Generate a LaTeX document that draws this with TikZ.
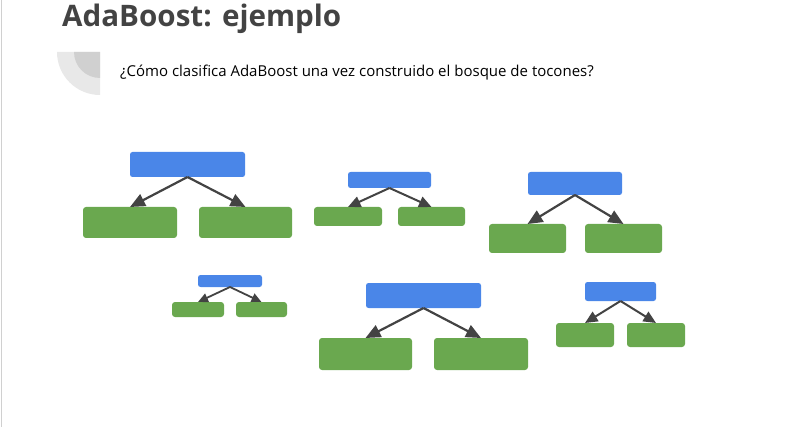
\documentclass[tikz,border=0pt]{standalone}
\usepackage{fontspec}
\setmainfont{Open Sans}
\newfontfamily\titlefont{Open Sans}
\usetikzlibrary{arrows.meta}
\definecolor{rootblue}{HTML}{4A86E8}
\definecolor{leafgreen}{HTML}{6AA84F}
\definecolor{darkgray}{HTML}{434343}
\definecolor{lightring}{HTML}{E8E8E8}
\definecolor{darkring}{HTML}{D0D0D0}
\tikzset{
  rootbox/.style={fill=rootblue, draw=none, rounded corners=2.5pt},
  leafbox/.style={fill=leafgreen, draw=none, rounded corners=3pt},
  edgebig/.style={draw=darkgray, line width=2.2pt, -{Triangle[length=15pt,width=13pt]}},
  edgemid/.style={draw=darkgray, line width=2pt, -{Triangle[length=12.5pt,width=11pt]}},
  edgesmall/.style={draw=darkgray, line width=1.8pt, -{Triangle[length=10pt,width=9pt]}},
}
\begin{document}
\begin{tikzpicture}[x=1pt,y=-1pt]
\useasboundingbox (0,0) rectangle (791,427);
% left border
\draw[draw=darkring, line width=1pt] (1.5,0) -- (1.5,427);
% corner decoration
\fill[lightring] (100,52) -- (57,52) arc[start angle=180, end angle=90, radius=43] -- cycle;
\fill[darkring] (100,52) -- (74,52) arc[start angle=180, end angle=90, radius=26] -- cycle;
% title
\node[anchor=base west, inner sep=0, text=darkgray, font=\titlefont\bfseries\fontsize{29.6}{34}\selectfont] (title) at (62,27) {AdaBoost: ejemplo};
\node[anchor=base west, inner sep=0, text=black, font=\fontsize{15}{18}\selectfont] (sub) at (120,77) {¿Cómo clasifica AdaBoost una vez construido el bosque de tocones?};
% tree 1
\path[rootbox] (130,152) rectangle (245,177); \coordinate (r1) at (187.5,177);
\path[leafbox] (83,207) rectangle (177,238); \coordinate (a1) at (130,207);
\path[leafbox] (199,207) rectangle (292,238); \coordinate (b1) at (245.5,207);
\draw[edgebig] (r1) -- (a1);
\draw[edgebig] (r1) -- (b1);
% tree 2
\path[rootbox] (348,172) rectangle (431,188); \coordinate (r2) at (389.5,188);
\path[leafbox] (314,207) rectangle (382,226); \coordinate (a2) at (348,207);
\path[leafbox] (398,207) rectangle (465,226); \coordinate (b2) at (431.5,207);
\draw[edgemid] (r2) -- (a2);
\draw[edgemid] (r2) -- (b2);
% tree 3
\path[rootbox] (528,172) rectangle (622,195); \coordinate (r3) at (575,195);
\path[leafbox] (489,224) rectangle (566,253); \coordinate (a3) at (527.5,224);
\path[leafbox] (585,224) rectangle (662,253); \coordinate (b3) at (623.5,224);
\draw[edgebig] (r3) -- (a3);
\draw[edgebig] (r3) -- (b3);
% tree 4
\path[rootbox] (198,275) rectangle (262,287); \coordinate (r4) at (230,287);
\path[leafbox] (172,302) rectangle (224,317); \coordinate (a4) at (198,302);
\path[leafbox] (236,302) rectangle (287,317); \coordinate (b4) at (261.5,302);
\draw[edgesmall] (r4) -- (a4);
\draw[edgesmall] (r4) -- (b4);
% tree 5
\path[rootbox] (366,283) rectangle (481,308); \coordinate (r5) at (423.5,308);
\path[leafbox] (319,338) rectangle (412,370); \coordinate (a5) at (365.5,338);
\path[leafbox] (434,338) rectangle (528,370); \coordinate (b5) at (481,338);
\draw[edgebig] (r5) -- (a5);
\draw[edgebig] (r5) -- (b5);
% tree 6
\path[rootbox] (585,282) rectangle (656,301); \coordinate (r6) at (620.5,301);
\path[leafbox] (556,323) rectangle (614,347); \coordinate (a6) at (585,323);
\path[leafbox] (627,323) rectangle (685,347); \coordinate (b6) at (656,323);
\draw[edgemid] (r6) -- (a6);
\draw[edgemid] (r6) -- (b6);
\end{tikzpicture}
\end{document}
